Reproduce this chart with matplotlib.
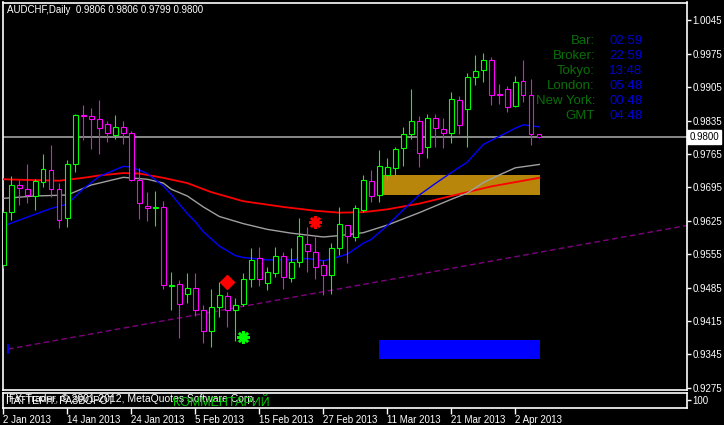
import numpy as np
import matplotlib
matplotlib.use("Agg")
import matplotlib.pyplot as plt
from matplotlib.patches import Rectangle

plt.rcParams['font.family'] = ['Liberation Sans', 'DejaVu Sans']

# daily AUDCHF bars, 2 Jan 2013 .. 5 Apr 2013 (bar index = position)
opens = [0.9532, 0.9643, 0.9701, 0.9692, 0.9677, 0.9707, 0.9731, 0.9691, 0.9630, 0.9745,
         0.9847, 0.9844, 0.9838, 0.9827, 0.9804, 0.9821, 0.9810, 0.9711, 0.9657, 0.9651,
         0.9653, 0.9488, 0.9492, 0.9471, 0.9484, 0.9439, 0.9395, 0.9445, 0.9467, 0.9437,
         0.9450, 0.9504, 0.9548, 0.9494, 0.9515, 0.9552, 0.9506, 0.9538, 0.9576, 0.9559,
         0.9532, 0.9511, 0.9567, 0.9616, 0.9592, 0.9648, 0.9708, 0.9678, 0.9720, 0.9736,
         0.9777, 0.9806, 0.9834, 0.9779, 0.9840, 0.9817, 0.9808, 0.9878, 0.9859, 0.9926,
         0.9940, 0.9961, 0.9891, 0.9901, 0.9865, 0.9917, 0.9888, 0.9806]
highs = [0.9646, 0.9719, 0.9711, 0.9744, 0.9712, 0.9765, 0.9784, 0.9704, 0.9752, 0.9849,
         0.9868, 0.9861, 0.9878, 0.9834, 0.9847, 0.9834, 0.9813, 0.9736, 0.9686, 0.9687,
         0.9666, 0.9518, 0.9501, 0.9515, 0.9515, 0.9448, 0.9482, 0.9497, 0.9476, 0.9463,
         0.9515, 0.9567, 0.9569, 0.9528, 0.9569, 0.9559, 0.9567, 0.9630, 0.9611, 0.9591,
         0.9542, 0.9578, 0.9653, 0.9616, 0.9658, 0.9721, 0.9731, 0.9773, 0.9756, 0.9779,
         0.9821, 0.9901, 0.9845, 0.9849, 0.9849, 0.9840, 0.9894, 0.9887, 0.9934, 0.9973,
         0.9976, 0.9968, 0.9912, 0.9907, 0.9928, 0.9961, 0.9922, 0.9806]
lows = [0.9526, 0.9627, 0.9658, 0.9662, 0.9648, 0.9696, 0.9674, 0.9609, 0.9611, 0.9728,
        0.9794, 0.9776, 0.9766, 0.9791, 0.9796, 0.9785, 0.9708, 0.9629, 0.9625, 0.9613,
        0.9481, 0.9439, 0.9379, 0.9452, 0.9425, 0.9369, 0.9360, 0.9423, 0.9403, 0.9372,
        0.9447, 0.9487, 0.9488, 0.9480, 0.9508, 0.9483, 0.9497, 0.9529, 0.9518, 0.9502,
        0.9469, 0.9472, 0.9553, 0.9536, 0.9583, 0.9643, 0.9665, 0.9665, 0.9712, 0.9721,
        0.9740, 0.9796, 0.9737, 0.9756, 0.9779, 0.9777, 0.9789, 0.9807, 0.9779, 0.9909,
        0.9915, 0.9867, 0.9869, 0.9852, 0.9863, 0.9873, 0.9783, 0.9799]
closes = [0.9643, 0.9701, 0.9693, 0.9678, 0.9709, 0.9733, 0.9691, 0.9626, 0.9743, 0.9847,
          0.9845, 0.9838, 0.9819, 0.9808, 0.9821, 0.9810, 0.9710, 0.9662, 0.9651, 0.9654,
          0.9490, 0.9490, 0.9450, 0.9484, 0.9439, 0.9395, 0.9444, 0.9469, 0.9437, 0.9448,
          0.9504, 0.9542, 0.9504, 0.9517, 0.9552, 0.9508, 0.9538, 0.9593, 0.9561, 0.9529,
          0.9512, 0.9567, 0.9618, 0.9593, 0.9651, 0.9710, 0.9676, 0.9739, 0.9738, 0.9775,
          0.9806, 0.9834, 0.9768, 0.9840, 0.9819, 0.9808, 0.9880, 0.9825, 0.9926, 0.9938,
          0.9961, 0.9888, 0.9888, 0.9863, 0.9915, 0.9888, 0.9806, 0.9800]

# moving averages (bar index, price)
ma_fast_idx = [0, 6, 8, 10, 12, 14, 15, 16, 18, 20, 21, 23, 24, 25, 27, 29, 30, 33, 36,
               38, 40, 42, 43, 45, 46, 48, 50, 52, 54, 56, 58, 60, 62, 64, 65, 67]
ma_fast = [0.9614, 0.9651, 0.9660, 0.9692, 0.9718, 0.9732, 0.9739, 0.9738, 0.9724, 0.9698,
           0.9680, 0.9640, 0.9623, 0.9602, 0.9572, 0.9552, 0.9548, 0.9543, 0.9543, 0.9546,
           0.9541, 0.9550, 0.9555, 0.9578, 0.9586, 0.9615, 0.9648, 0.9679, 0.9703, 0.9726,
           0.9748, 0.9785, 0.9802, 0.9819, 0.9826, 0.9822]
ma_mid_idx = [0, 4, 8, 11, 14, 15, 18, 20, 21, 23, 25, 27, 30, 33, 36, 40, 42, 44, 45,
              48, 52, 56, 58, 60, 62, 64, 67]
ma_mid = [0.9672, 0.9677, 0.9679, 0.9700, 0.9712, 0.9716, 0.9712, 0.9704, 0.9691, 0.9677,
          0.9654, 0.9634, 0.9619, 0.9607, 0.9599, 0.9591, 0.9594, 0.9598, 0.9600, 0.9616,
          0.9642, 0.9670, 0.9683, 0.9705, 0.9721, 0.9736, 0.9743]
ma_slow_idx = [0, 2, 7, 10, 12, 15, 17, 20, 23, 26, 30, 35, 39, 42, 45, 48, 52, 56, 61, 63, 67]
ma_slow = [0.9712, 0.9711, 0.9709, 0.9715, 0.9720, 0.9725, 0.9724, 0.9715, 0.9704, 0.9685,
           0.9666, 0.9654, 0.9646, 0.9642, 0.9643, 0.9649, 0.9661, 0.9677, 0.9697, 0.9703,
           0.9715]

# objects drawn on the chart
trend_x = [0.6, 85.4]
trend_y = [0.9356, 0.9615]
zone_up = (47.25, 67.1, 0.9679, 0.9720)
zone_dn = (46.95, 67.1, 0.9335, 0.9375)
diamond = (28, 0.9496)
star_red = (39, 0.9623)
star_green = (30, 0.9382)
last_price = 0.9800

yticks = [0.9275, 0.9345, 0.9415, 0.9485, 0.9555, 0.9625, 0.9695, 0.9765, 0.9835,
          0.9905, 0.9975, 1.0045]
date_pos = [0, 8, 16, 24, 32, 40, 48, 56, 64]
date_labels = ["2 Jan 2013", "14 Jan 2013", "24 Jan 2013", "5 Feb 2013", "15 Feb 2013",
               "27 Feb 2013", "11 Mar 2013", "21 Mar 2013", "2 Apr 2013"]

info_names = ["Bar:", "Broker:", "Tokyo:", "London:", "New York:", "GMT"]
info_times = ["02:59", "22:59", "13:48", "05:48", "00:48", "04:48"]

W, H = 724, 425
px = 0.72  # one pixel in points
fig = plt.figure(figsize=(W / 100, H / 100), dpi=100, facecolor="black")
ax = fig.add_axes([2.5 / W, (H - 390) / H, 684 / W, 387.5 / H], facecolor="black")
sub = fig.add_axes([2.5 / W, (H - 407.5) / H, 684 / W, 14.8 / H], facecolor="black")

for a in (ax, sub):
    for s in a.spines.values():
        s.set_color("white")
        s.set_linewidth(1.2)
    a.set_xlim(-0.1, 85.4)

ax.set_ylim(0.92703, 1.00825)

GREEN, MAGENTA = "#00FF00", "#FF00FF"

# zones first, candles on top
ax.add_patch(Rectangle((zone_up[0], zone_up[2]), zone_up[1] - zone_up[0], zone_up[3] - zone_up[2],
                       facecolor="#B8860B", edgecolor="none", zorder=1))
ax.add_patch(Rectangle((zone_dn[0], zone_dn[2]), zone_dn[1] - zone_dn[0], zone_dn[3] - zone_dn[2],
                       facecolor="#0000FF", edgecolor="none", zorder=1))

ax.plot(trend_x, trend_y, color="#800080", lw=1.0, ls=(0, (4, 2.5)), zorder=2)
ax.plot([0.6, 0.6], [0.9347, 0.9365], color="#0000FF", lw=1.2, zorder=2)
ax.axhline(last_price, color="#A0A0A0", lw=1.2, zorder=2)

ax.plot(ma_slow_idx, ma_slow, color="#FF0000", lw=1.3, zorder=3)
ax.plot(ma_mid_idx, ma_mid, color="#A0A0A0", lw=1.0, zorder=3)
ax.plot(ma_fast_idx, ma_fast, color="#0000FF", lw=1.0, zorder=3)

bw = 0.55
for i, (o, h, l, c) in enumerate(zip(opens, highs, lows, closes)):
    col = GREEN if c >= o else MAGENTA
    ax.vlines(i, l, h, color=col, lw=1.1 * px, zorder=4)
    lo, hi = min(o, c), max(o, c)
    if hi - lo < 0.00015:
        ax.hlines([lo, hi], i - bw / 2, i + bw / 2, color=col, lw=1.4, zorder=5)
    else:
        ax.add_patch(Rectangle((i - bw / 2, lo), bw, hi - lo, facecolor="black",
                               edgecolor=col, lw=1.1 * px, zorder=5))

ax.plot(*diamond, marker="D", ms=7, color="#FF0000", mec="#FF0000", zorder=6)
ax.plot(*star_red, marker=(8, 2, 0), ms=9, mew=1.8, color="#FF0000", zorder=6)
ax.plot(*star_green, marker=(8, 2, 0), ms=9, mew=1.8, color="#00FF00", zorder=6)

ax.yaxis.tick_right()
ax.set_yticks(yticks)
ax.set_yticklabels([f"{v:.4f}" for v in yticks])
ax.tick_params(axis="y", colors="white", labelsize=7, length=3, width=1, pad=1.5)
ax.set_xticks([])

# current price tag
ax.text(1.004, last_price, f"{last_price:.4f}", transform=ax.get_yaxis_transform(),
        ha="left", va="center", fontsize=7, color="black",
        bbox=dict(boxstyle="square,pad=0.2", facecolor="white", edgecolor="white"),
        clip_on=False, zorder=10)

sub.set_ylim(0, 1)
sub.set_yticks([0.5])
sub.yaxis.tick_right()
sub.set_yticklabels(["100"])
sub.tick_params(axis="y", colors="white", labelsize=7, length=3, width=1, pad=1.5)
sub.set_xticks(date_pos)
sub.set_xticklabels(date_labels)
sub.tick_params(axis="x", colors="white", labelsize=7, length=4, width=1, pad=1.5)
for lab in sub.get_xticklabels():
    lab.set_ha("left")

def ftext(x, y, s, **kw):
    fig.text(x / W, 1 - y / H, s, va="center", **kw)

ftext(7, 10, "AUDCHF,Daily  0.9806 0.9806 0.9799 0.9800", color="white", fontsize=7)

for k, (name, t) in enumerate(zip(info_names, info_times)):
    y = 41 + 15 * k
    ftext(595, y, name, ha="right", color="#0A6E0A", fontsize=9.5)
    ftext(609, y, t, ha="left", color="#0000D0", fontsize=9.5)

# bottom strip: labels written on top of each other, as in the terminal
ftext(6, 399, "IFX-Trader, \u00a9 2001-2012, MetaQuotes Software Corp.", color="white", fontsize=7.5)
ftext(6, 401, "ПАТТЕРН: РАЗВОРОТ", color="white", fontsize=7.5)
ftext(173, 403, "КОММЕНТАРИЙ", color="#00C800", fontsize=9)

fig.savefig("out.png", dpi=100, facecolor="black")
